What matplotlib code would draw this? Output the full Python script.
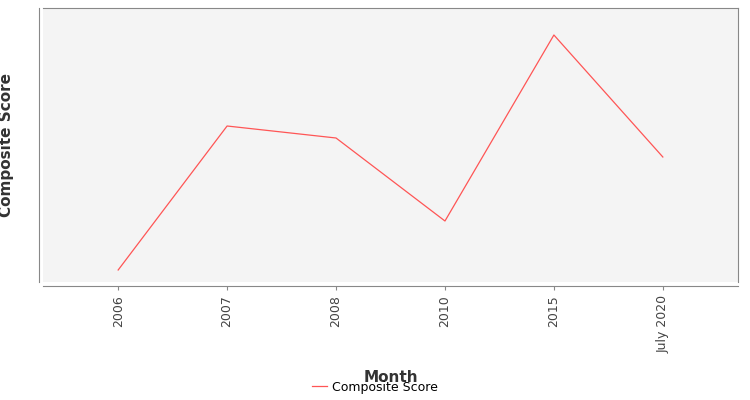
import matplotlib
matplotlib.use("Agg")
import matplotlib.pyplot as plt
from matplotlib.lines import Line2D

categories = ["2006", "2007", "2008", "2010", "2015", "July 2020"]
scores = [12, 156, 144, 61, 247, 125]

fig = plt.figure(figsize=(7.5, 4), dpi=100)
ax = fig.add_axes([43/750, 1-282/400, 695/750, 274/400])
ax.set_facecolor("#f4f4f4")
x = list(range(len(categories)))
ax.plot(x, scores, color="#ff5555", lw=0.9)
ax.set_xlim(-0.69, len(categories)-1+0.69)
ax.set_ylim(0, 274)
ax.set_xticks(x)
ax.set_xticklabels(categories)
ax.set_yticks([])
for s in ax.spines.values():
    s.set_color("#888888"); s.set_linewidth(0.8)
ax.spines["left"].set_position(("outward", 3))
ax.spines["bottom"].set_position(("outward", 3))
ax.tick_params(axis="x", length=3, color="#888888", labelrotation=90,
               labelsize=9, labelcolor="#444444")
ax.set_ylabel("Composite Score", fontsize=11, color="#333333", fontweight="semibold", labelpad=18)
ax.set_xlabel("Month", fontsize=11, color="#333333", fontweight="semibold", labelpad=12)
h = Line2D([], [], color="#ff5555", lw=0.9)
fig.legend([h], ["Composite Score"], loc="center", bbox_to_anchor=(0.5, 1-387/400),
           frameon=False, fontsize=9, handlelength=1.2, handletextpad=0.4)
fig.savefig("out.png", dpi=100)
